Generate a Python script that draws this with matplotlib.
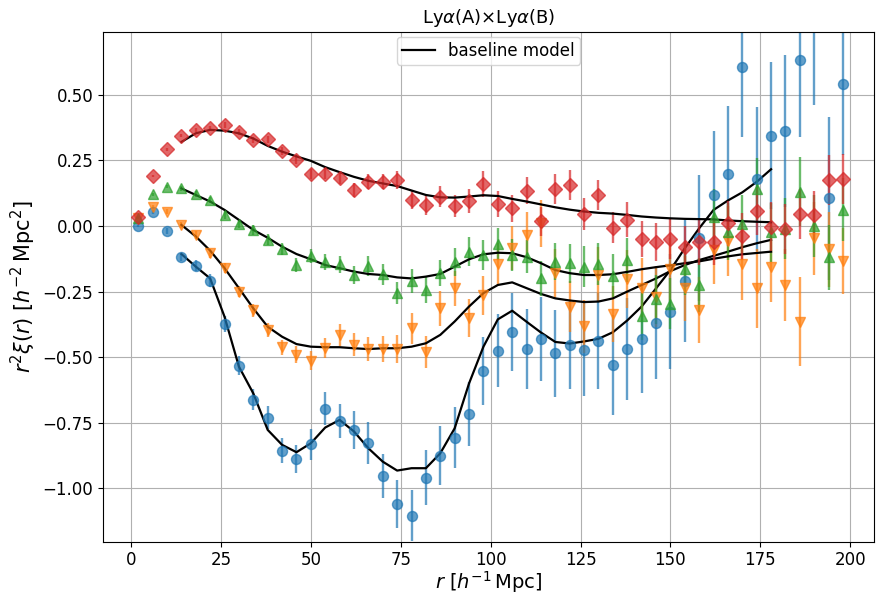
"""
Lya x Lya correlation function with baseline model
"""

import numpy as np
import matplotlib
matplotlib.use("Agg")
import matplotlib.pyplot as plt

# Data: r bins (h^-1 Mpc)
r = [2, 6, 10, 14, 18, 22, 26, 30, 34, 38, 42, 46, 50, 54, 58, 62, 66, 70, 74, 78,
     82, 86, 90, 94, 98, 102, 106, 110, 114, 118, 122, 126, 130, 134, 138, 142, 146,
     150, 154, 158, 162, 166, 170, 174, 178, 182, 186, 190, 194, 198]

# r^2 xi for the four wedges
xi_blue = [0.0, 0.052, -0.019, -0.117, -0.151, -0.208, -0.375, -0.532, -0.663, -0.73,
           -0.856, -0.888, -0.832, -0.697, -0.743, -0.777, -0.828, -0.952, -1.06, -1.104,
           -0.959, -0.876, -0.806, -0.716, -0.552, -0.475, -0.403, -0.47, -0.432, -0.485,
           -0.453, -0.472, -0.438, -0.53, -0.47, -0.432, -0.371, -0.326, -0.21, -0.045,
           0.116, 0.198, 0.605, 0.179, 0.343, 0.362, 0.632, 0.78, 0.105, 0.54]
err_blue = [0.005, 0.007, 0.01, 0.015, 0.02, 0.025, 0.03, 0.035, 0.04, 0.044,
            0.048, 0.053, 0.058, 0.063, 0.066, 0.072, 0.08, 0.085, 0.092, 0.098,
            0.104, 0.112, 0.118, 0.123, 0.13, 0.138, 0.148, 0.152, 0.16, 0.166,
            0.17, 0.177, 0.183, 0.19, 0.195, 0.203, 0.212, 0.22, 0.232, 0.24,
            0.246, 0.258, 0.265, 0.275, 0.28, 0.29, 0.292, 0.32, 0.31, 0.27]

xi_orange = [0.03, 0.071, 0.055, 0.004, -0.034, -0.104, -0.161, -0.25, -0.322, -0.396,
             -0.462, -0.491, -0.513, -0.466, -0.415, -0.453, -0.469, -0.47, -0.47, -0.39,
             -0.481, -0.314, -0.238, -0.352, -0.265, -0.145, -0.085, -0.034, 0.01, -0.18,
             -0.307, -0.383, -0.185, -0.334, -0.203, -0.235, -0.27, -0.165, -0.238, -0.32,
             -0.091, -0.056, -0.145, -0.238, -0.155, -0.225, -0.365, -0.047, -0.089, -0.133]
err_orange = [0.005, 0.007, 0.009, 0.012, 0.014, 0.017, 0.019, 0.021, 0.024, 0.026,
              0.029, 0.032, 0.035, 0.038, 0.041, 0.044, 0.047, 0.05, 0.053, 0.058,
              0.062, 0.066, 0.068, 0.073, 0.076, 0.08, 0.083, 0.086, 0.09, 0.094,
              0.097, 0.1, 0.104, 0.107, 0.11, 0.113, 0.116, 0.12, 0.123, 0.126,
              0.13, 0.133, 0.136, 0.15, 0.135, 0.137, 0.17, 0.14, 0.142, 0.127]

xi_green = [0.03, 0.12, 0.15, 0.143, 0.122, 0.099, 0.042, 0.008, -0.016, -0.053,
            -0.088, -0.149, -0.114, -0.138, -0.146, -0.187, -0.152, -0.184, -0.257, -0.21,
            -0.244, -0.18, -0.136, -0.098, -0.11, -0.069, -0.11, -0.117, -0.2, -0.136,
            -0.142, -0.155, -0.145, -0.189, -0.13, -0.345, -0.28, -0.297, -0.165, -0.225,
            0.033, -0.022, 0.006, 0.141, -0.024, -0.01, 0.131, 0.001, -0.119, 0.061]
err_green = [0.004, 0.006, 0.007, 0.009, 0.011, 0.013, 0.015, 0.017, 0.019, 0.021,
             0.023, 0.025, 0.028, 0.03, 0.032, 0.035, 0.037, 0.04, 0.042, 0.045,
             0.048, 0.05, 0.053, 0.055, 0.057, 0.06, 0.062, 0.064, 0.067, 0.07,
             0.075, 0.078, 0.08, 0.083, 0.085, 0.09, 0.093, 0.097, 0.1, 0.103,
             0.106, 0.108, 0.11, 0.117, 0.113, 0.115, 0.13, 0.118, 0.124, 0.12]

xi_red = [0.035, 0.19, 0.292, 0.343, 0.366, 0.374, 0.385, 0.357, 0.328, 0.33,
          0.286, 0.252, 0.198, 0.198, 0.184, 0.137, 0.169, 0.169, 0.175, 0.099,
          0.08, 0.112, 0.077, 0.096, 0.16, 0.084, 0.067, 0.135, 0.017, 0.141,
          0.156, 0.046, 0.118, -0.006, 0.023, -0.05, -0.06, -0.05, -0.081, -0.062,
          -0.062, 0.01, -0.04, 0.057, -0.003, -0.011, 0.044, 0.04, 0.175, 0.179]
err_red = [0.003, 0.004, 0.005, 0.006, 0.007, 0.008, 0.01, 0.011, 0.012, 0.014,
           0.015, 0.017, 0.019, 0.021, 0.023, 0.025, 0.027, 0.03, 0.033, 0.035,
           0.037, 0.04, 0.042, 0.045, 0.048, 0.05, 0.052, 0.05, 0.055, 0.057,
           0.058, 0.06, 0.058, 0.06, 0.067, 0.07, 0.072, 0.075, 0.08, 0.085,
           0.087, 0.086, 0.088, 0.09, 0.093, 0.095, 0.095, 0.092, 0.095, 0.094]

# Baseline model, fitted range only
r_model = [14, 18, 22, 26, 30, 34, 38, 42, 46, 50, 54, 58, 62, 66, 70, 74, 78, 82, 86, 90,
           94, 98, 102, 106, 110, 114, 118, 122, 126, 130, 134, 138, 142, 146, 150, 154,
           158, 162, 166, 170, 174, 178]
model_blue = [-0.107, -0.155, -0.2, -0.346, -0.536, -0.638, -0.777, -0.834, -0.862, -0.828,
              -0.768, -0.739, -0.783, -0.847, -0.898, -0.932, -0.923, -0.923, -0.866, -0.771,
              -0.6, -0.46, -0.356, -0.323, -0.365, -0.406, -0.442, -0.448, -0.44, -0.43,
              -0.405, -0.36, -0.307, -0.238, -0.168, -0.085, -0.009, 0.061, 0.097, 0.128,
              0.168, 0.216]
model_orange = [0.004, -0.04, -0.094, -0.161, -0.237, -0.314, -0.384, -0.422, -0.45, -0.46,
                -0.462, -0.462, -0.466, -0.469, -0.466, -0.466, -0.46, -0.447, -0.415, -0.364,
                -0.307, -0.256, -0.225, -0.215, -0.237, -0.259, -0.276, -0.284, -0.29, -0.288,
                -0.276, -0.25, -0.225, -0.2, -0.172, -0.149, -0.13, -0.114, -0.098, -0.081,
                -0.066, -0.053]
model_green = [0.143, 0.118, 0.093, 0.061, 0.023, -0.015, -0.045, -0.079, -0.107, -0.127,
               -0.149, -0.161, -0.174, -0.183, -0.187, -0.196, -0.2, -0.193, -0.183, -0.155,
               -0.127, -0.108, -0.102, -0.104, -0.119, -0.142, -0.168, -0.18, -0.187, -0.187,
               -0.184, -0.175, -0.165, -0.157, -0.15, -0.142, -0.135, -0.125, -0.116, -0.108,
               -0.103, -0.098]
model_red = [0.32, 0.353, 0.366, 0.363, 0.353, 0.333, 0.305, 0.283, 0.265, 0.248,
             0.224, 0.205, 0.187, 0.172, 0.162, 0.152, 0.135, 0.118, 0.109, 0.108,
             0.112, 0.117, 0.114, 0.103, 0.093, 0.082, 0.071, 0.062, 0.055, 0.05,
             0.047, 0.042, 0.036, 0.032, 0.029, 0.027, 0.026, 0.025, 0.021, 0.018,
             0.016, 0.014]

series = [
    (xi_blue, err_blue, model_blue, "C0", "o"),
    (xi_orange, err_orange, model_orange, "C1", "v"),
    (xi_green, err_green, model_green, "C2", "^"),
    (xi_red, err_red, model_red, "C3", "D"),
]

fig = plt.figure(figsize=(8.76, 5.96), dpi=100)
ax = fig.add_axes([0.1176, 0.0911, 0.8796, 0.8557])

for i, (xi, err, model, col, mk) in enumerate(series):
    ax.errorbar(r, xi, yerr=err, fmt=mk, color=col, alpha=0.7,
                markersize=7.2, elinewidth=1.7, capsize=0)
    ax.plot(r_model, model, color="black", lw=1.6,
            label="baseline model" if i == 0 else None)

ax.set_xlim(-7.8, 206.5)
ax.set_ylim(-1.203, 0.740)
ax.set_xticks([0, 25, 50, 75, 100, 125, 150, 175, 200])
ax.set_yticks([-1.0, -0.75, -0.5, -0.25, 0.0, 0.25, 0.5])
ax.tick_params(labelsize=12)
ax.grid(True)

ax.set_title(r"Ly$\alpha$(A)$\times$Ly$\alpha$(B)", fontsize=13)
ax.set_xlabel(r"$r\ [h^{-1}\,\mathrm{Mpc}]$", fontsize=14, labelpad=0)
ax.set_ylabel(r"$r^2\xi(r)\ [h^{-2}\,\mathrm{Mpc}^2]$", fontsize=15, labelpad=3)
ax.legend(loc="upper center", fontsize=12, handlelength=2.0,
          borderpad=0.3, borderaxespad=0.3)

fig.savefig("out.png", dpi=100)
